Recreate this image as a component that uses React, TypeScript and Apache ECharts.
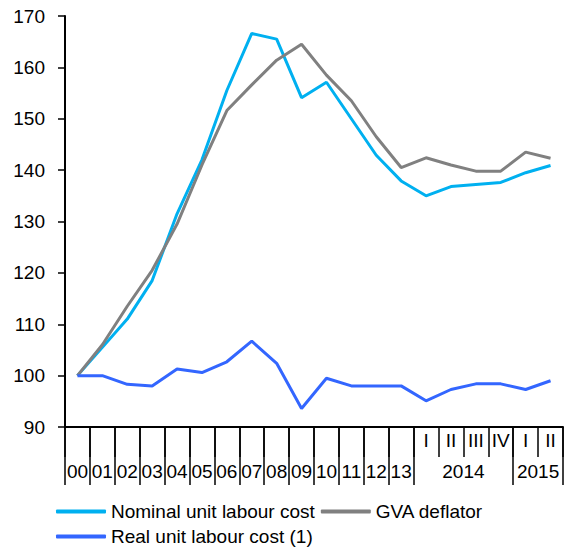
import React, { useEffect, useRef } from "react";
import * as echarts from "echarts";

const years = ["00", "01", "02", "03", "04", "05", "06", "07", "08", "09", "10", "11", "12", "13"];
const quarterYears = ["2014", "2015"];
const quarters2014 = ["I", "II", "III", "IV"];
const quarters2015 = ["I", "II"];

const nominal = [100, 105.5, 111, 118.5, 131.5, 142, 155.5, 166.6, 165.5, 154.1, 157.1, 150, 142.9, 137.9, 135.0, 136.8, 137.2, 137.6, 139.5, 140.9];
const gva = [100, 106, 113.5, 120.5, 129.5, 141, 151.6, 156.6, 161.4, 164.5, 158.5, 153.5, 146.5, 140.5, 142.4, 141.0, 139.8, 139.8, 143.5, 142.3];
const real = [100, 100, 98.3, 98.0, 101.3, 100.6, 102.7, 106.7, 102.4, 93.6, 99.5, 98.0, 98.0, 98.0, 95.1, 97.3, 98.4, 98.4, 97.3, 99.0];

const seriesNames = ["Nominal unit labour cost", "GVA deflator", "Real unit labour cost (1)"];
const colors = ["#00B0F0", "#808080", "#3366FF"];

const FONT = "'Liberation Sans', Arial, sans-serif";

export default function App() {
  const ref = useRef<HTMLDivElement>(null);
  useEffect(() => {
    if (!ref.current) return;
    const chart = echarts.init(ref.current, null, { renderer: "svg" });

    const quarterGroups = [quarters2014, quarters2015];
    const categories: string[] = [...years];
    const quarterLabel: string[] = years.map(() => "");
    quarterGroups.forEach((qs, gi) => {
      qs.forEach((q) => {
        categories.push(quarterYears[gi] + " " + q);
        quarterLabel.push(q);
      });
    });
    const tickVals: number[] = [];
    const labelVals: number[] = [];
    const labelMap: Record<string, string> = {};
    years.forEach((y, i) => {
      tickVals.push(i);
      labelVals.push(i + 0.5);
      labelMap[String(i + 0.5)] = y;
    });
    let pos = years.length;
    quarterGroups.forEach((qs, gi) => {
      tickVals.push(pos);
      const c = pos + qs.length / 2;
      labelVals.push(c);
      labelMap[String(c)] = quarterYears[gi];
      pos += qs.length;
    });
    tickVals.push(pos);

    const textStyle = { fontFamily: FONT, fontSize: 19, color: "#000" };

    chart.setOption({
      animation: false,
      textStyle: { fontFamily: FONT },
      grid: { left: 65, top: 16, right: 11, bottom: 120, containLabel: false },
      legend: [
        {
          data: [seriesNames[0], seriesNames[1]],
          left: 51,
          top: 497,
          itemWidth: 50,
          itemHeight: 4,
          itemGap: 6,
          icon: "roundRect",
          textStyle: { ...textStyle },
        },
        {
          data: [seriesNames[2]],
          left: 51,
          top: 522,
          itemWidth: 50,
          itemHeight: 4,
          icon: "roundRect",
          textStyle: { ...textStyle },
        },
      ],
      xAxis: [
        {
          type: "category",
          data: categories,
          boundaryGap: true,
          position: "bottom",
          axisLine: { show: true, lineStyle: { color: "#000", width: 2 } },
          axisTick: { show: true, interval: 0, length: 30, lineStyle: { color: "#000", width: 1.5 } },
          axisLabel: {
            interval: 0,
            margin: 4,
            ...textStyle,
            formatter: (_v: string, idx: number) => quarterLabel[idx],
          },
          splitLine: { show: false },
        },
        {
          type: "value",
          min: 0,
          max: pos,
          position: "bottom",
          axisLine: { show: false },
          axisTick: { show: true, customValues: tickVals, length: 58, lineStyle: { color: "#000", width: 1.5 } },
          axisLabel: {
            customValues: labelVals,
            margin: 35,
            ...textStyle,
            formatter: (v: number) => labelMap[String(v)] ?? "",
          },
          splitLine: { show: false },
        },
      ],
      yAxis: {
        type: "value",
        min: 90,
        max: 170,
        interval: 10,
        axisLine: { show: true, lineStyle: { color: "#000", width: 2 } },
        axisTick: { show: true, length: 7, lineStyle: { color: "#000", width: 1.5 } },
        axisLabel: { margin: 20, ...textStyle },
        splitLine: { show: false },
      },
      series: [
        { name: seriesNames[0], type: "line", data: nominal, xAxisIndex: 0, symbol: "none", lineStyle: { width: 3, color: colors[0] }, itemStyle: { color: colors[0] } },
        { name: seriesNames[1], type: "line", data: gva, xAxisIndex: 0, symbol: "none", lineStyle: { width: 3, color: colors[1] }, itemStyle: { color: colors[1] } },
        { name: seriesNames[2], type: "line", data: real, xAxisIndex: 0, symbol: "none", lineStyle: { width: 3, color: colors[2] }, itemStyle: { color: colors[2] } },
      ],
    });
    return () => chart.dispose();
  }, []);
  return <div ref={ref} style={{ width: 574, height: 547, position: "absolute", left: 0, top: 0 }} />;
}
